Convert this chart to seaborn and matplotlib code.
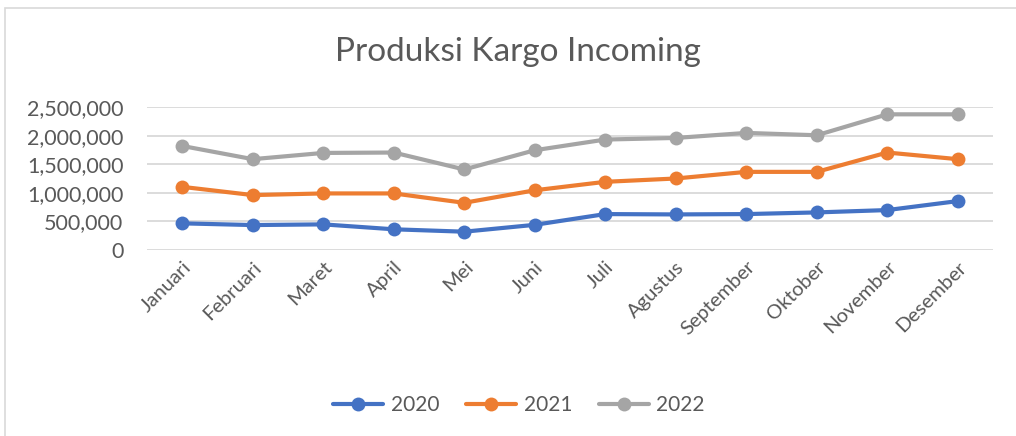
import pandas as pd
import matplotlib.pyplot as plt
import seaborn as sns
from matplotlib.patches import Rectangle
from matplotlib.ticker import FuncFormatter

months = ['Januari', 'Februari', 'Maret', 'April', 'Mei', 'Juni', 'Juli',
          'Agustus', 'September', 'Oktober', 'November', 'Desember']
years = ['2020', '2021', '2022']
kargo_2020 = [466000, 436000, 448000, 362000, 320000, 440000,
              628000, 622000, 628000, 657000, 698000, 855000]
kargo_2021 = [1104000, 960000, 989000, 989000, 825000, 1044000,
              1192000, 1250000, 1366000, 1366000, 1704000, 1588000]
kargo_2022 = [1819000, 1588000, 1697000, 1704000, 1408000, 1744000,
              1931000, 1959000, 2047000, 2006000, 2372000, 2372000]
colors = ['#4472C4', '#ED7D31', '#A5A5A5']

df = pd.DataFrame({'bulan': months * 3,
                   'tahun': [y for y in years for _ in months],
                   'kargo': kargo_2020 + kargo_2021 + kargo_2022})

sns.set_style('white')
plt.rcParams['font.family'] = ['Lato', 'DejaVu Sans']
txt = '#595959'

fig = plt.figure(figsize=(10.16, 4.36), dpi=100)
# outer chart frame (runs off the right and bottom edges)
fig.patches.append(Rectangle((5 / 1016, -0.1), 1.2, 1.1 - 8 / 436, transform=fig.transFigure,
                             fill=False, edgecolor='#D9D9D9', linewidth=1.2))
ax = fig.add_axes([147 / 1016, 1 - 250 / 436, 846 / 1016, 143 / 436])

sns.lineplot(data=df, x='bulan', y='kargo', hue='tahun', palette=colors, sort=False,
             marker='o', markersize=10, markeredgewidth=0, linewidth=3, ax=ax)

ax.set_xlim(-0.5, 11.5)
ax.set_ylim(0, 2500000)
ax.set_yticks(range(0, 2500001, 500000))
ax.yaxis.set_major_formatter(FuncFormatter(lambda v, p: f'{int(v):,}'))
ax.grid(axis='y', color='#D9D9D9', linewidth=1.3)
ax.set_axisbelow(True)
for s in ax.spines.values():
    s.set_visible(False)
ax.set_xlabel('')
ax.set_ylabel('')
ax.tick_params(axis='y', labelsize=15.5, colors=txt, pad=17, length=0)
ax.tick_params(axis='x', labelsize=14.5, colors=txt, pad=6, length=0)
plt.setp(ax.get_xticklabels(), rotation=45, ha='right', rotation_mode='anchor')

fig.text(0.51, 1 - 52 / 436, 'Produksi Kargo Incoming', ha='center', va='center',
         fontsize=24, color=txt)

leg = ax.legend(loc='center', bbox_to_anchor=(0.511, 1 - 405 / 436), bbox_transform=fig.transFigure,
                ncol=3, frameon=False, fontsize=15, handlelength=2.4, columnspacing=1.3,
                handletextpad=0.35)
for t in leg.get_texts():
    t.set_color(txt)

fig.savefig('out.png', dpi=100)
